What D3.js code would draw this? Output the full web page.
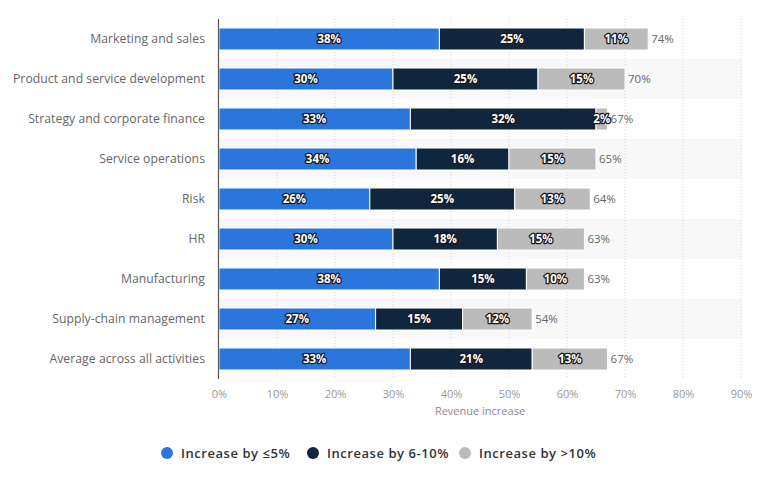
<!DOCTYPE html>
<html><head><meta charset="utf-8">
<script src="https://cdn.jsdelivr.net/npm/d3@7"></script>
<style>body{margin:0;background:#fff}svg{display:block}</style>
</head><body><svg id="c" width="768" height="477"></svg>
<script>
const categories = ["Marketing and sales","Product and service development","Strategy and corporate finance","Service operations","Risk","HR","Manufacturing","Supply-chain management","Average across all activities"];
const seriesNames = ["Increase by ≤5%","Increase by 6-10%","Increase by >10%"];
const low = [38,30,33,34,26,30,38,27,33];
const mid = [25,25,32,16,25,18,15,15,21];
const high = [11,15,2,15,13,15,10,12,13];
const totals = [74,70,67,65,64,63,63,54,67];
const tickValues = [0,10,20,30,40,50,60,70,80,90];
const colors = ["#2a76dd","#10263f","#bbbbbb"];

const svg = d3.select("#c");
const font = "'Open Sans', sans-serif";
const x = d3.scaleLinear().domain([0,90]).range([219,741]);
const y = d3.scaleBand().domain(categories).range([19,379]).paddingInner(0).paddingOuter(0);
const bh = 22;

// bands
svg.append("g").selectAll("rect").data(categories).join("rect")
  .attr("x",219).attr("y",d=>y(d)).attr("width",742-219).attr("height",y.bandwidth())
  .attr("fill",(d,i)=> i%2===1 ? "#f8f8f8" : "#ffffff");

// grid
svg.append("g").selectAll("line").data(tickValues.slice(1)).join("line")
  .attr("x1",d=>x(d)).attr("x2",d=>x(d)).attr("y1",19).attr("y2",379)
  .attr("stroke","#d6d6d6").attr("stroke-dasharray","1,2").attr("stroke-width",1);

const data = categories.map((c,i)=>({c,vals:[low[i],mid[i],high[i]],total:totals[i]}));
const g = svg.append("g");
data.forEach(d=>{
  let acc=0;
  d.vals.forEach((v,j)=>{
    const x0=x(acc), x1=x(acc+v);
    const yc = y(d.c)+y.bandwidth()/2;
    g.append("rect").attr("x",x0).attr("y",yc-bh/2).attr("width",x1-x0).attr("height",bh)
      .attr("fill",colors[j]).attr("stroke","#ffffff").attr("stroke-width",1);
    acc+=v;
  });
});
// labels
data.forEach(d=>{
  let acc=0;
  const yc = y(d.c)+y.bandwidth()/2;
  d.vals.forEach((v,j)=>{
    const cx = x(acc+v/2);
    const t = g.append("text").attr("x",cx).attr("y",yc+4).attr("text-anchor","middle")
      .attr("font-family",font).attr("font-size",11.5).attr("font-weight",700).text(v+"%");
    t.attr("fill","#ffffff").attr("stroke","#1a1a1a").attr("stroke-width",2.6).attr("stroke-linejoin","round").attr("paint-order","stroke");
    acc+=v;
  });
  g.append("text").attr("x",x(d.total)+3).attr("y",yc+4).attr("font-family",font).attr("font-size",11.5)
    .attr("fill","#666").text(d.total+"%");
});

// y axis labels
svg.append("g").selectAll("text").data(categories).join("text")
  .attr("x",205).attr("y",d=>y(d)+y.bandwidth()/2+4).attr("text-anchor","end")
  .attr("font-family",font).attr("font-size",12.2).attr("letter-spacing",0.05).attr("fill","#666").text(d=>d);

// axis line
svg.append("line").attr("x1",218.5).attr("x2",218.5).attr("y1",19).attr("y2",379).attr("stroke","#555").attr("stroke-width",1.2);

// x ticks
const xa = svg.append("g").attr("transform","translate(0,379)")
  .call(d3.axisBottom(x).tickValues(tickValues).tickFormat(d=>d+"%").tickSize(0).tickPadding(11));
xa.select(".domain").remove();
xa.selectAll("text").attr("font-family",font).attr("font-size",11).attr("fill","#999");
svg.append("text").attr("x",480).attr("y",415).attr("text-anchor","middle").attr("font-family",font)
  .attr("font-size",11).attr("fill","#888").text("Revenue increase");

// legend
const lx=[167,313,465];
const lg = svg.append("g");
seriesNames.forEach((n,i)=>{
  lg.append("circle").attr("cx",lx[i]).attr("cy",453).attr("r",6).attr("fill",colors[i]);
  lg.append("text").attr("x",lx[i]+14).attr("y",457.5).attr("font-family",font).attr("font-size",13)
    .attr("letter-spacing",0.55).attr("font-weight",600).attr("fill","#333").text(n);
});
</script></body></html>
